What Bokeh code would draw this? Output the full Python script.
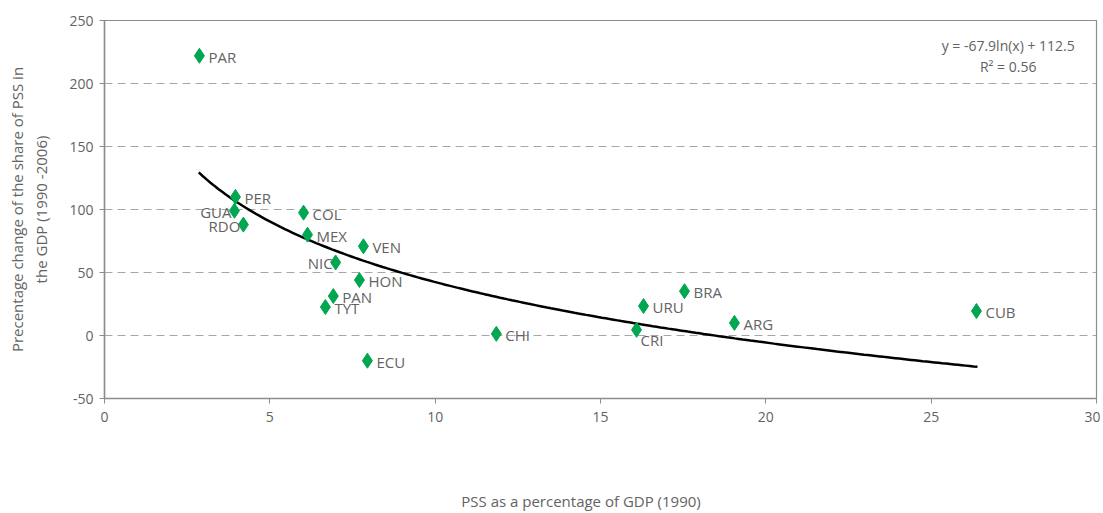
from bokeh.plotting import figure
from bokeh.models import ColumnDataSource, Label, FixedTicker, Range1d, PrintfTickFormatter
from bokeh.core.properties import value
from bokeh.embed import file_html
from bokeh.resources import INLINE
import numpy as np

countries = ["PAR", "PER", "GUA", "RDO", "COL", "MEX", "VEN", "NIC", "HON", "PAN",
             "TYT", "ECU", "CHI", "CRI", "URU", "BRA", "ARG", "CUB"]
pss_1990 = [2.87, 3.96, 3.93, 4.2, 6.02, 6.14, 7.83, 6.99, 7.71, 6.92,
            6.68, 7.95, 11.85, 16.09, 16.3, 17.54, 19.05, 26.37]
pct_change = [222, 110, 99, 88, 97.5, 80, 70.8, 58, 44, 31.3,
              22.6, -20, 1.3, 4.5, 23.4, 35.2, 10, 19.4]
label_side = ["r", "r", "l", "l", "r", "r", "r", "l", "r", "r",
              "r", "r", "r", "b", "r", "r", "r", "r"]

# trend line as drawn (logarithmic)
trend_a = -69.3
trend_b = 202.0
trend_x_start = 2.85
trend_x_end = 26.4

x_ticks = [0, 5, 10, 15, 20, 25, 30]
y_ticks = [-50, 0, 50, 100, 150, 200, 250]

FONT = "Open Sans"
TXT = "#636363"
AX = "#8c8c8c"

p = figure(width=1100, height=513, output_backend="svg", toolbar_location=None,
           x_range=Range1d(0, 30), y_range=Range1d(-50, 250),
           min_border_left=104, min_border_top=20, min_border_right=4, min_border_bottom=115)

p.xgrid.grid_line_color = None
p.ygrid.grid_line_color = "#a6a6a6"
p.ygrid.grid_line_dash = "8 5"
p.ygrid.grid_line_width = 1
p.outline_line_color = AX
p.outline_line_width = 1.2

p.xaxis.ticker = FixedTicker(ticks=x_ticks)
p.yaxis.ticker = FixedTicker(ticks=y_ticks)
p.xaxis.formatter = PrintfTickFormatter(format="%d")
p.yaxis.formatter = PrintfTickFormatter(format="%d")
for ax in (p.xaxis[0], p.yaxis[0]):
    ax.axis_line_color = AX
    ax.axis_line_width = 1.5
    ax.major_tick_line_color = AX
    ax.major_tick_out = 5
    ax.major_tick_in = 0
    ax.minor_tick_line_color = None
    ax.major_label_text_font = FONT
    ax.major_label_text_font_size = "14px"
    ax.major_label_text_color = TXT
    ax.major_label_text_font_style = "normal"
    ax.axis_label_text_font = FONT
    ax.axis_label_text_font_size = "15px"
    ax.axis_label_text_color = TXT
    ax.axis_label_text_font_style = "normal"

p.yaxis.axis_label = "Precentage change of the share of PSS in\nthe GDP (1990 -2006)"
p.yaxis.axis_label_standoff = 15
# non-breaking spaces shift the centred title slightly left, as in the original
p.xaxis.axis_label = "PSS as a percentage of GDP (1990)" + "\u00a0" * 10
p.xaxis.axis_label_standoff = 66
p.xaxis.major_label_standoff = 8
p.yaxis.major_label_standoff = 6

# trend line
tx = np.linspace(trend_x_start, trend_x_end, 200)
ty = trend_a * np.log(tx) + trend_b
p.line(tx, ty, line_color="black", line_width=2.5)

# points
src = ColumnDataSource(dict(x=pss_1990, y=pct_change, c=countries))
p.scatter("x", "y", source=src, marker="diamond", size=15,
          fill_color="#00a650", line_color="#00a650")

# labels
def subset(side):
    idx = [i for i, s in enumerate(label_side) if s == side]
    return ColumnDataSource(dict(x=[pss_1990[i] for i in idx],
                                 y=[pct_change[i] for i in idx],
                                 c=[countries[i] for i in idx]))

p.text("x", "y", text="c", source=subset("r"), x_offset=9, y_offset=1,
       text_align="left", text_baseline="middle", text_font=value(FONT),
       text_font_size="15px", text_color=TXT)
p.text("x", "y", text="c", source=subset("l"), x_offset=-3, y_offset=1,
       text_align="right", text_baseline="middle", text_font=value(FONT),
       text_font_size="15px", text_color=TXT)
p.text("x", "y", text="c", source=subset("b"), x_offset=4, y_offset=10,
       text_align="left", text_baseline="middle", text_font=value(FONT),
       text_font_size="15px", text_color=TXT)

p.add_layout(Label(x=27.33, y=230, text="y = -67.9ln(x) + 112.5", text_align="center",
                   text_baseline="middle", text_font=FONT, text_font_size="14px",
                   text_color=TXT))
p.add_layout(Label(x=27.33, y=213.5, text="R² = 0.56", text_align="center",
                   text_baseline="middle", text_font=FONT, text_font_size="14px",
                   text_color=TXT))

open("out.html", "w").write(file_html(p, INLINE))
